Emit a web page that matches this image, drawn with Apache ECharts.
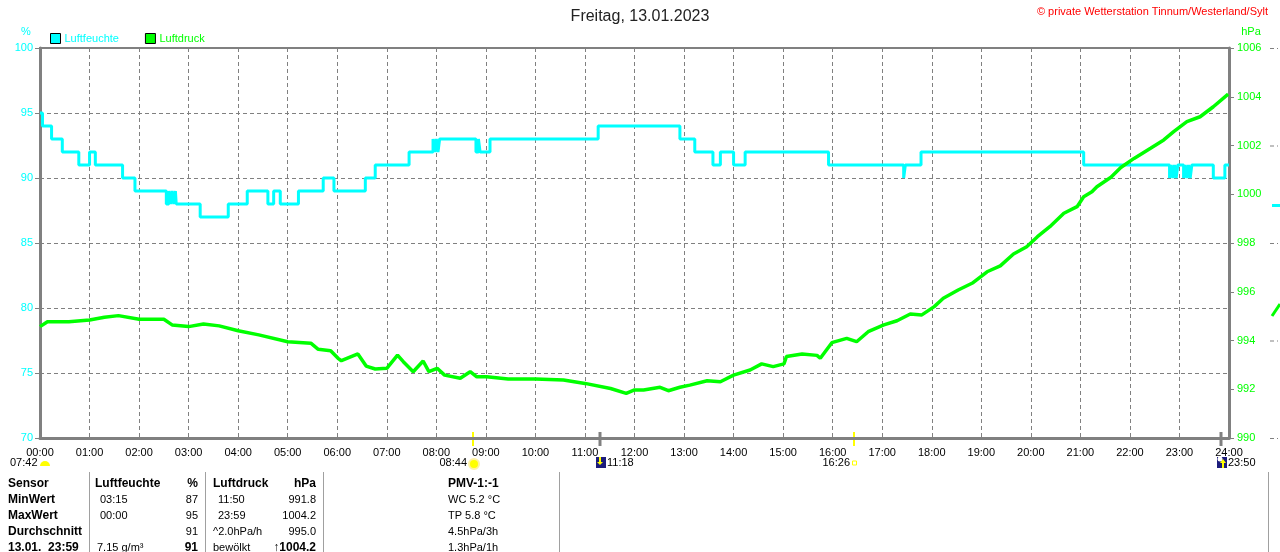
<!DOCTYPE html>
<html>
<head>
<meta charset="utf-8">
<title>Freitag, 13.01.2023</title>
<script src="https://cdn.jsdelivr.net/npm/echarts@6/dist/echarts.min.js"></script>
<style>
html, body { margin: 0; padding: 0; background: #fff; }
#main { width: 1280px; height: 552px; }
</style>
</head>
<body>
<div id="main"></div>
<script>
'use strict';

// Luftfeuchte (%) - Minute des Wechsels und neuer Wert
var humMinutes = [0, 3, 14, 27, 47, 60, 67, 100, 115, 153, 156, 158, 160, 162, 164, 165, 194, 228, 251, 276,
  283, 291, 313, 343, 356, 394, 406, 447, 476, 478, 480, 482, 484, 528, 531, 533, 545, 676, 775, 793,
  815, 824, 840, 854, 955, 1046, 1048, 1067, 1264, 1368, 1370, 1372, 1374, 1376, 1378, 1385, 1387, 1389, 1391, 1393,
  1395, 1421, 1435, 1440];
var humValues = [95, 94, 93, 92, 91, 92, 91, 90, 89, 88, 89, 88, 89, 88, 89, 88, 87, 88, 89, 88,
  89, 88, 89, 90, 89, 90, 91, 92, 93, 92, 93, 92, 93, 92, 93, 92, 93, 94, 93, 92,
  91, 92, 91, 92, 91, 90, 91, 92, 91, 90, 91, 90, 91, 90, 91, 90, 91, 90, 91, 90,
  91, 90, 91, 91];

// Luftdruck (hPa)
var presMinutes = [0, 9, 35, 60, 78, 95, 120, 150, 160, 180, 198, 217, 240, 265, 300, 328, 337, 352, 361, 365,
  385, 395, 406, 420, 433, 440, 452, 464, 471, 481, 490, 509, 521, 529, 541, 567, 600, 634, 660, 691,
  710, 720, 731, 751, 761, 775, 787, 808, 824, 840, 860, 874, 888, 901, 904, 923, 941, 945, 959, 977,
  989, 1003, 1022, 1038, 1054, 1068, 1083, 1094, 1112, 1130, 1147, 1163, 1179, 1195, 1208, 1223, 1240, 1256, 1264, 1274,
  1280, 1297, 1309, 1325, 1345, 1361, 1373, 1389, 1405, 1421, 1439];
var presValues = [994.57, 994.77, 994.77, 994.84, 994.95, 995.02, 994.87, 994.87, 994.64, 994.57, 994.68, 994.60, 994.40, 994.23, 993.95, 993.89, 993.64, 993.58, 993.27, 993.17,
  993.45, 992.95, 992.83, 992.86, 993.40, 993.13, 992.72, 993.16, 992.72, 992.86, 992.58, 992.45, 992.72, 992.51, 992.51, 992.42, 992.42, 992.38, 992.24, 992.03,
  991.83, 991.97, 991.97, 992.08, 991.94, 992.08, 992.17, 992.35, 992.31, 992.58, 992.79, 993.04, 992.93, 993.04, 993.34, 993.45, 993.39, 993.27, 993.91, 994.09,
  993.95, 994.36, 994.64, 994.81, 995.09, 995.05, 995.39, 995.73, 996.07, 996.37, 996.82, 997.06, 997.55, 997.85, 998.26, 998.67, 999.22, 999.49, 999.90, 1000.10,
  1000.31, 1000.70, 1001.10, 1001.47, 1001.89, 1002.23, 1002.57, 1002.98, 1003.18, 1003.59, 1004.11];

// Sonne / Mond
var eventTimes = ['08:44', '11:18', '16:26', '23:50'];
var eventKinds = ['sunrise', 'moonset', 'sunset', 'moonrise'];
var dawnTime = '07:42';

// Tabelle unten
var tableHead = ['Sensor', 'Luftfeuchte', '%', 'Luftdruck', 'hPa'];
var tableRows = [
  ['MinWert', '03:15', '87', '11:50', '991.8'],
  ['MaxWert', '00:00', '95', '23:59', '1004.2'],
  ['Durchschnitt', '', '91', '^2.0hPa/h', '995.0'],
  ['13.01.  23:59', '7.15 g/m\u00b3', '91', 'bew\u00f6lkt', '\u21911004.2']
];
var pmvLines = ['PMV-1:-1', 'WC 5.2 \u00b0C', 'TP 5.8 \u00b0C', '4.5hPa/3h', '1.3hPa/1h'];

var FONT = '"Liberation Sans", Arial, sans-serif';
var CYAN = '#00ffff';
var GREEN = '#00ff00';
var GRAY = '#808080';

function pairs(xs, ys) {
  var out = [];
  for (var i = 0; i < xs.length; i++) out.push([xs[i], ys[i]]);
  return out;
}
function toMin(s) {
  var p = s.split(':');
  return (+p[0]) * 60 + (+p[1]);
}

var chart = echarts.init(document.getElementById('main'));
chart.setOption({
  animation: false,
  backgroundColor: '#fff',
  title: {
    text: 'Freitag, 13.01.2023',
    left: 'center',
    top: 4,
    textStyle: { fontFamily: FONT, fontSize: 16, fontWeight: 'normal', color: '#222' }
  },
  legend: {
    left: 45,
    top: 28,
    itemWidth: 10,
    itemHeight: 10,
    itemGap: 26,
    icon: 'rect',
    selectedMode: false,
    textStyle: { fontFamily: FONT, fontSize: 11, padding: [0, 0, 0, -1] },
    data: [
      { name: 'Luftfeuchte', textStyle: { color: CYAN }, itemStyle: { color: CYAN, borderColor: '#000', borderWidth: 1 } },
      { name: 'Luftdruck', textStyle: { color: GREEN }, itemStyle: { color: GREEN, borderColor: '#000', borderWidth: 1 } }
    ]
  },
  grid: {
    left: 40, right: 51, top: 48, bottom: 114,
    show: true, borderColor: GRAY, borderWidth: 2
  },
  xAxis: {
    type: 'value',
    min: 0, max: 1440, interval: 60,
    axisLine: { lineStyle: { color: GRAY, width: 3 } },
    axisTick: { show: false },
    axisLabel: {
      margin: 9,
      color: '#000',
      fontFamily: FONT,
      fontSize: 11,
      formatter: function(v) {
        var h = v / 60;
        return (h < 10 ? '0' : '') + h + ':00';
      }
    },
    splitLine: { show: true, lineStyle: { color: GRAY, type: [4, 3], width: 1 } }
  },
  yAxis: [
    {
      type: 'value', position: 'left',
      min: 70, max: 100, interval: 5,
      axisLine: { show: true, lineStyle: { color: GRAY, width: 3 } },
      axisTick: { show: true, length: 5, lineStyle: { color: GRAY, width: 1 } },
      axisLabel: { margin: 7, color: CYAN, fontFamily: FONT, fontSize: 11 },
      splitLine: { show: true, lineStyle: { color: GRAY, type: [4, 3], width: 1 } }
    },
    {
      type: 'value', position: 'right',
      min: 990, max: 1006, interval: 2,
      axisLine: { show: true, lineStyle: { color: GRAY, width: 3 } },
      axisTick: { show: true, length: 5, lineStyle: { color: GRAY, width: 1 } },
      axisLabel: {
        margin: 8, color: GREEN, fontFamily: FONT, fontSize: 11,
        formatter: function(v) { return String(v); }
      },
      splitLine: { show: false }
    }
  ],
  series: [
    {
      name: 'Luftfeuchte',
      type: 'line',
      yAxisIndex: 0,
      step: 'end',
      symbol: 'none',
      lineStyle: { color: CYAN, width: 3 },
      itemStyle: { color: CYAN },
      data: pairs(humMinutes, humValues),
      z: 3
    },
    {
      name: 'Luftdruck',
      type: 'line',
      yAxisIndex: 1,
      symbol: 'none',
      lineStyle: { color: GREEN, width: 3.5 },
      itemStyle: { color: GREEN },
      data: pairs(presMinutes, presValues),
      z: 4
    }
  ]
});

// Zusatzgrafik: Achsennamen, Copyright, Sonne/Mond, Tabelle
var g = [];
function txt(x, y, s, color, opt) {
  opt = opt || {};
  g.push({
    type: 'text', x: x, y: y, silent: true,
    style: {
      text: s, fill: color || '#000',
      font: (opt.bold ? 'bold ' : '') + (opt.size || 11) + 'px ' + FONT,
      align: opt.align || 'left', verticalAlign: 'middle'
    }
  });
}
function rect(x, y, w, h, fill, stroke) {
  g.push({ type: 'rect', silent: true, shape: { x: x, y: y, width: w, height: h },
    style: { fill: fill || 'none', stroke: stroke || null, lineWidth: 1 } });
}

var gridBottom = chart.convertToPixel({ yAxisIndex: 0 }, 70);
var rightX = chart.convertToPixel({ xAxisIndex: 0 }, 1440);

txt(26, 32, '%', CYAN, { align: 'center' });
txt(rightX + 22, 32, 'hPa', GREEN, { align: 'center' });
txt(1268, 12, '\u00a9 private Wetterstation Tinnum/Westerland/Sylt', '#ff0000', { align: 'right' });

// Reste eines Nachbardiagramms am rechten Rand
[1006, 1002, 998, 994, 990].forEach(function(v) {
  var y = chart.convertToPixel({ yAxisIndex: 1 }, v);
  rect(1270, y, 4, 1, GRAY);
  rect(1277, y, 1, 1, GRAY);
});
rect(1272, 204, 8, 3, CYAN);
g.push({ type: 'line', silent: true, shape: { x1: 1272, y1: 316, x2: 1280, y2: 304 }, style: { stroke: GREEN, lineWidth: 3 } });

// Morgendaemmerung links
var ly = gridBottom + 25;
txt(10, ly, dawnTime, '#000');
g.push({ type: 'sector', silent: true, shape: { cx: 45, cy: ly + 3, r: 5, startAngle: Math.PI, endAngle: Math.PI * 2 },
  style: { fill: '#ffff00' } });

eventTimes.forEach(function(t, i) {
  var x = Math.round(chart.convertToPixel({ xAxisIndex: 0 }, toMin(t)));
  var kind = eventKinds[i];
  if (kind === 'sunrise' || kind === 'sunset') {
    rect(x - 1, gridBottom - 6, 2, 14, '#ffff00');
  } else {
    rect(x - 1.5, gridBottom - 6, 3, 14, GRAY);
  }
  if (kind === 'sunrise') {
    g.push({ type: 'circle', silent: true, shape: { cx: x + 1, cy: ly + 1, r: 5 }, style: { fill: '#ffff00', stroke: '#fff2a0', lineWidth: 2 } });
    txt(x - 6, ly, t, '#000', { align: 'right' });
  } else if (kind === 'sunset') {
    rect(x - 1.5, ly - 2, 4, 4, '#fff', '#ffff00');
    txt(x - 4, ly, t, '#000', { align: 'right' });
  } else {
    rect(x - 4, ly - 6, 10, 11, '#1c1c7c');
    if (kind === 'moonset') {
      g.push({ type: 'line', silent: true, shape: { x1: x, y1: ly - 6, x2: x, y2: ly }, style: { stroke: '#ffff00', lineWidth: 2 } });
      g.push({ type: 'polygon', silent: true, shape: { points: [[x - 3, ly - 1], [x + 3, ly - 1], [x, ly + 2]] }, style: { fill: '#ffff00' } });
    } else {
      g.push({ type: 'circle', silent: true, shape: { cx: x - 1, cy: ly - 4, r: 2.5 }, style: { fill: '#fff' } });
      g.push({ type: 'line', silent: true, shape: { x1: x + 2, y1: ly - 1, x2: x + 2, y2: ly + 5 }, style: { stroke: '#ffff00', lineWidth: 2 } });
      g.push({ type: 'polygon', silent: true, shape: { points: [[x - 1, ly], [x + 5, ly], [x + 2, ly - 4]] }, style: { fill: '#ffff00' } });
    }
    txt(x + 7, ly, t, '#000');
  }
});

// Tabelle
[89, 205, 323, 559, 1268].forEach(function(x) {
  rect(x, 472, 1, 80, '#a0a0a0');
});
var rowY = [484, 500, 516, 532, 548];
var colX = [8, 100, 198, 213, 316];
var colAlign = ['left', 'left', 'right', 'left', 'right'];
tableHead.forEach(function(s, c) {
  txt(c === 1 ? 95 : colX[c], rowY[0], s, '#000', { bold: true, size: 12, align: colAlign[c] });
});
tableRows.forEach(function(row, r) {
  var last = r === tableRows.length - 1;
  row.forEach(function(s, c) {
    var bold = c === 0 || (last && (c === 2 || c === 4));
    var x = colX[c];
    if (c === 1 && last) x = 97;
    if (c === 3 && r < 2) x = 218;
    txt(x, rowY[r + 1], s, '#000', { bold: bold, size: bold ? 12 : 11, align: colAlign[c] });
  });
});
pmvLines.forEach(function(s, i) {
  txt(448, rowY[i], s, '#000', { bold: i === 0, size: i === 0 ? 12 : 11 });
});

chart.setOption({ graphic: g });
</script>
</body>
</html>
